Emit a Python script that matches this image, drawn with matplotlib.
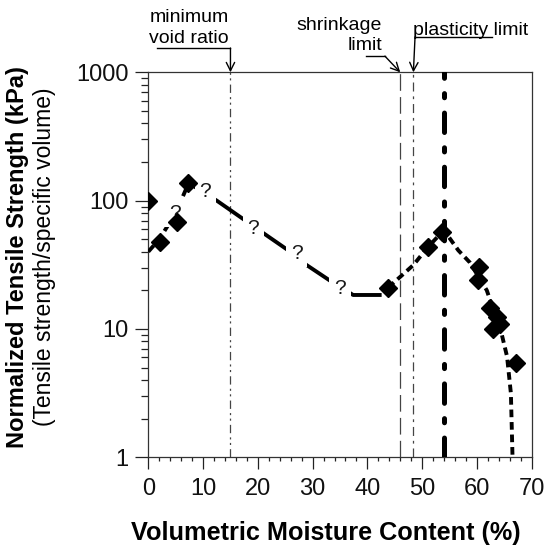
import matplotlib
matplotlib.use("Agg")
import matplotlib.pyplot as plt
import matplotlib.transforms as mtransforms
from matplotlib.ticker import FixedLocator, NullFormatter

plt.rcParams['font.family'] = ['Liberation Sans', 'DejaVu Sans']
plt.rcParams['lines.scale_dashes'] = False

# measured points
x_meas = [0, 2.1, 5.2, 7.3, 43.8, 51.1, 53.6, 60.3, 60.2, 62.4, 63.7, 63.0, 64.2, 67.1]
y_meas = [100, 48, 68.5, 138, 21, 43.7, 56.6, 30.5, 24, 14.5, 12.3, 10, 11, 5.45]

# fitted trend (rising dry branch)
fitA_x = [0, 2, 5, 7.3]
fitA_y = [40, 50, 80, 135]
# uncertain branch (with question marks)
fitB_x = [7.3, 12.5, 17.1, 20.7, 25.3, 28.9, 33.5, 37.4, 42.6]
fitB_y = [138, 100, 73, 57, 41.7, 31.5, 23.3, 18.4, 18.4]
# wet branch
fitC_x = [43.8, 46.0, 48.4, 51.1, 53.6, 54.2, 56.6, 58.7, 61.8, 64.5, 65.5, 66.2, 66.5]
fitC_y = [21, 25.5, 31.5, 43.7, 56.6, 57, 41, 33, 20, 9.2, 6.1, 3.15, 1.0]

q_x = [4.9, 10.4, 19.2, 27.1, 35.0]
q_y = [80, 117, 61, 39, 20.7]

min_void_x = 15
shrink_x = 46
plastic_x = 48.4
peak_x = 54

xticks = [0, 10, 20, 30, 40, 50, 60, 70]
yticks = [1, 10, 100, 1000]
ytick_labels = ['1', '10', '100', '1000']

W, H = 546, 549
fig = plt.figure(figsize=(W / 100, H / 100), dpi=100)
ax = fig.add_axes([148.3 / W, 1 - 457.3 / H, (531.7 - 148.3) / W, (457.3 - 72.3) / H])
ax.set_yscale('log')
ax.set_xlim(0, 70)
ax.set_ylim(1, 1000)

lw_fit = 2.8
ax.plot(fitA_x, fitA_y, color='black', lw=lw_fit, linestyle=(0, (6, 3.5)), zorder=3)
ax.plot(fitB_x, fitB_y, color='black', lw=lw_fit, solid_capstyle='butt', zorder=3)
ax.plot(fitC_x, fitC_y, color='black', lw=lw_fit, linestyle=(0, (5.5, 3.5)), zorder=3)

for qx, qy in zip(q_x, q_y):
    ax.text(qx, qy, '?', fontsize=15, ha='center', va='center', color='#1a1a1a',
            zorder=4, bbox=dict(facecolor='white', edgecolor='none', pad=3.5))

ax.plot(x_meas, y_meas, linestyle='none', marker='D', markersize=9.5,
        color='black', zorder=6)

# vertical reference lines
ax.axvline(min_void_x, color='#444444', lw=0.9, linestyle=(0, (6, 3, 1.5, 2.5, 1.5, 3)), zorder=2)
ax.axvline(shrink_x, color='#444444', lw=0.9, linestyle=(0, (12, 4.5)), zorder=2)
ax.axvline(plastic_x, color='#444444', lw=0.9, linestyle=(0, (6.5, 3.5, 2, 3.5)), zorder=2)
ax.axvline(peak_x, color='black', lw=3.6, linestyle=(0, (14, 11, 3, 11)),
           dash_capstyle='round', zorder=5)

# ticks
ax.xaxis.set_major_locator(FixedLocator(xticks))
ax.xaxis.set_minor_locator(FixedLocator([v for v in range(0, 71, 2) if v % 10]))
ax.set_xticklabels([str(v) for v in xticks])
ax.set_yticks(yticks)
ax.set_yticklabels(ytick_labels)
ax.yaxis.set_minor_formatter(NullFormatter())
ax.tick_params(axis='both', which='both', direction='out', color='#222222', width=0.9,
               labelsize=17, labelcolor='#111111')
ax.tick_params(axis='y', which='major', length=9.4, pad=5)
ax.tick_params(axis='y', which='minor', length=5)
ax.tick_params(axis='x', which='major', length=8.6, pad=6)
ax.tick_params(axis='x', which='minor', length=3.2)
for s in ax.spines.values():
    s.set_color('#333333')
    s.set_linewidth(0.9)

ax.set_xlabel('Volumetric Moisture Content (%)', fontsize=18.2, fontweight='bold')
ax.xaxis.set_label_coords(0.463, -0.166)

fig.text(18 / W, 1 - 257 / H, 'Normalized Tensile Strength (kPa)', rotation=90,
         fontsize=17, fontweight='bold', ha='center', va='center')
fig.text(45 / W, 1 - 257 / H, '(Tensile strength/specific volume)', rotation=90,
         fontsize=16.5, ha='center', va='center')

# annotations above the plot
px = mtransforms.Affine2D().scale(1 / W, -1 / H).translate(0, 1) + fig.transFigure
fig.text(189, 22, 'minimum', transform=px, fontsize=14, ha='center', va='baseline')
fig.text(189, 43, 'void ratio', transform=px, fontsize=14, ha='center', va='baseline')
fig.text(382, 30, 'shrinkage', transform=px, fontsize=14, ha='right', va='baseline')
fig.text(382, 50, 'limit', transform=px, fontsize=14, ha='right', va='baseline')
fig.text(413, 35, 'plasticity limit', transform=px, fontsize=14, ha='left', va='baseline')

bt = mtransforms.blended_transform_factory(ax.transData, ax.transAxes)
arrow = dict(arrowstyle='->,head_length=0.6,head_width=0.3', lw=1.0, color='black',
             shrinkA=0, shrinkB=0)
ax.plot([1.6, min_void_x], [1.063, 1.063], color='black', lw=1.0, transform=bt, clip_on=False)
ax.annotate('', xy=(min_void_x, 1.0), xytext=(min_void_x, 1.063), xycoords=bt, textcoords=bt,
            arrowprops=arrow)
ax.plot([39.7, 43.2], [1.042, 1.042], color='black', lw=1.0, transform=bt, clip_on=False)
ax.annotate('', xy=(shrink_x, 1.0), xytext=(43.2, 1.042), xycoords=bt, textcoords=bt,
            arrowprops=arrow)
ax.plot([62.7, 48.7], [1.092, 1.092], color='black', lw=1.0, transform=bt, clip_on=False)
ax.annotate('', xy=(plastic_x, 1.0), xytext=(48.7, 1.092), xycoords=bt, textcoords=bt,
            arrowprops=arrow)

fig.savefig('out.png', dpi=100)
